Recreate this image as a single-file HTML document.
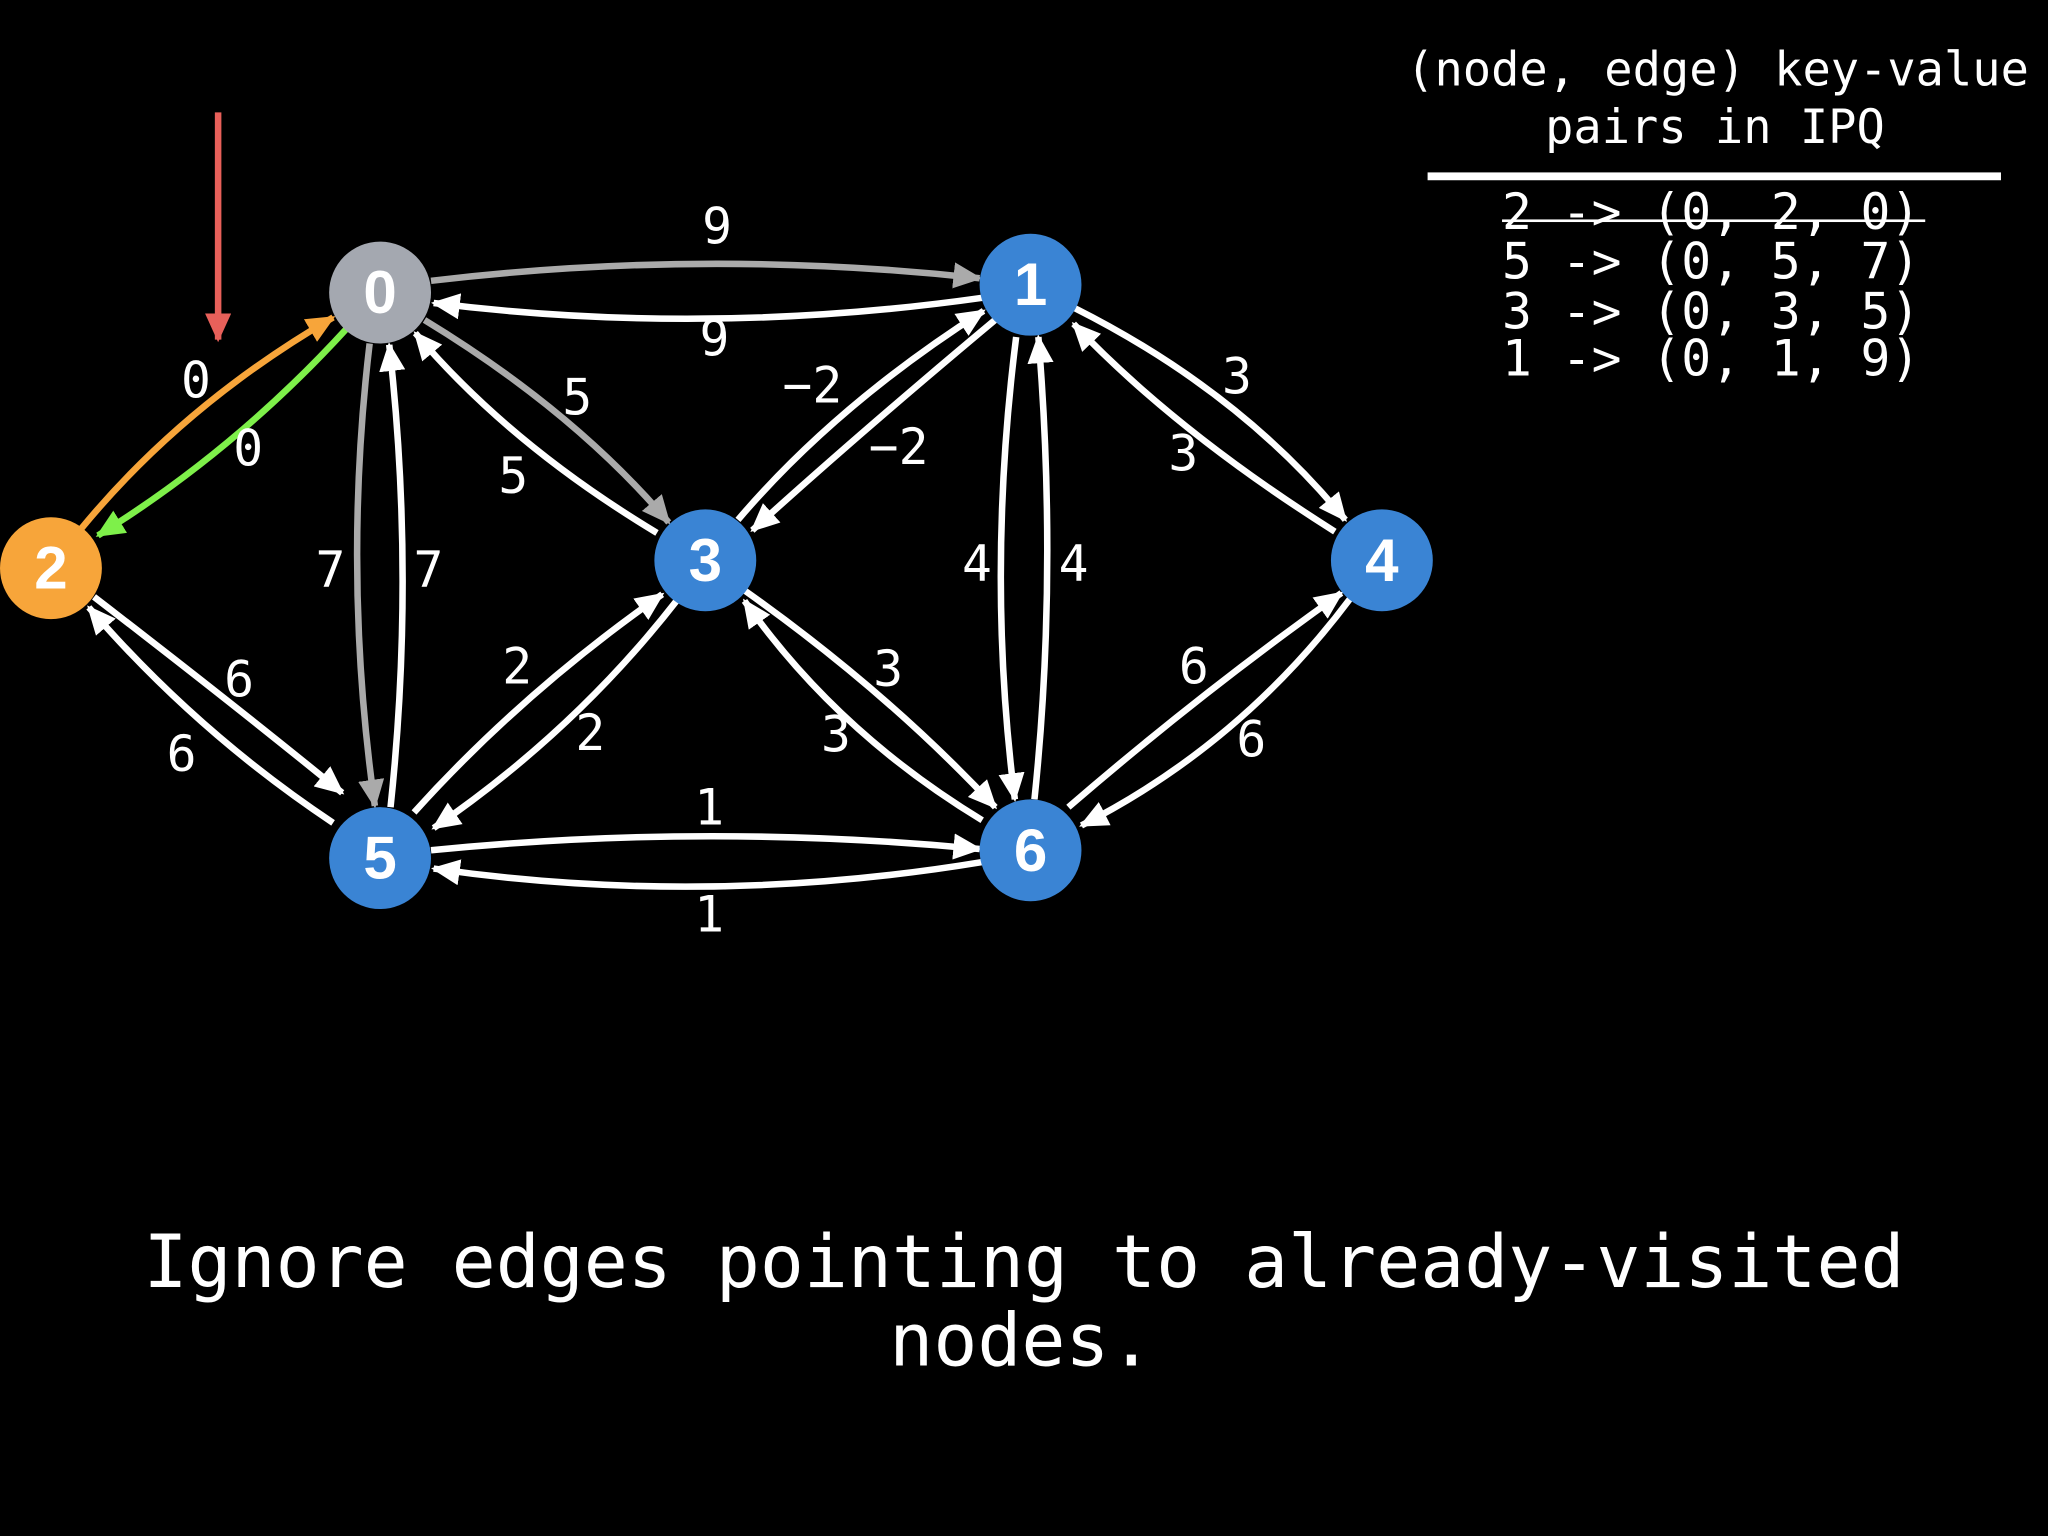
<!DOCTYPE html>
<html><head><meta charset="utf-8"><style>
html,body{margin:0;padding:0;background:#000;}
svg{display:block;}
.l{font-family:"DejaVu Sans Mono","Liberation Mono",monospace;fill:#fff;font-size:38px;text-anchor:middle;dominant-baseline:middle;}
.n{font-family:"Liberation Sans",sans-serif;font-weight:bold;fill:#fff;font-size:46px;text-anchor:middle;dominant-baseline:central;}
path{fill:none;stroke-width:5;}
</style></head><body>
<svg width="2048" height="1536" viewBox="0 0 1568 1176" xmlns="http://www.w3.org/2000/svg">
<defs>
<marker id="w" markerUnits="userSpaceOnUse" markerWidth="24" markerHeight="20" refX="20" refY="10" orient="auto"><path d="M0,0 L22,10 L0,20 Z" style="fill:#fff;stroke:none"/></marker>
<marker id="g" markerUnits="userSpaceOnUse" markerWidth="24" markerHeight="20" refX="20" refY="10" orient="auto"><path d="M0,0 L22,10 L0,20 Z" style="fill:#aaa;stroke:none"/></marker>
<marker id="gr" markerUnits="userSpaceOnUse" markerWidth="24" markerHeight="20" refX="20" refY="10" orient="auto"><path d="M0,0 L22,10 L0,20 Z" style="fill:#7ef04a;stroke:none"/></marker>
<marker id="o" markerUnits="userSpaceOnUse" markerWidth="24" markerHeight="20" refX="20" refY="10" orient="auto"><path d="M0,0 L22,10 L0,20 Z" style="fill:#f7a53a;stroke:none"/></marker>
<marker id="r" markerUnits="userSpaceOnUse" markerWidth="24" markerHeight="20" refX="20" refY="10" orient="auto"><path d="M0,0 L22,10 L0,20 Z" style="fill:#e8605a;stroke:none"/></marker>
</defs>
<rect width="1568" height="1176" fill="#000"/>
<!-- red pointer -->
<path d="M167,86 L167,260" stroke="#e8605a" marker-end="url(#r)"/>
<!-- edges -->
<path d="M330,215 Q540,190 750,213" stroke="#aaa" marker-end="url(#g)"/>
<path d="M752,228 Q540,258 332,232" stroke="#fff" marker-end="url(#w)"/>
<path d="M62,405 Q140,310 255,243" stroke="#f7a53a" marker-end="url(#o)"/>
<path d="M265,252 Q180,345 75,410" stroke="#7ef04a" marker-end="url(#gr)"/>
<path d="M325,245 Q440,315 512,400" stroke="#aaa" marker-end="url(#g)"/>
<path d="M503,408 Q390,340 318,255" stroke="#fff" marker-end="url(#w)"/>
<path d="M283,263 Q262,440 287,617" stroke="#aaa" marker-end="url(#g)"/>
<path d="M299,618 Q318,440 298,264" stroke="#fff" marker-end="url(#w)"/>
<path d="M763,244 Q660,330 576,406" stroke="#fff" marker-end="url(#w)"/>
<path d="M565,398 Q640,310 753,238" stroke="#fff" marker-end="url(#w)"/>
<path d="M823,236 Q950,300 1030,398" stroke="#fff" marker-end="url(#w)"/>
<path d="M1022,407 Q900,330 822,248" stroke="#fff" marker-end="url(#w)"/>
<path d="M778,258 Q755,440 777,612" stroke="#fff" marker-end="url(#w)"/>
<path d="M792,612 Q810,440 795,258" stroke="#fff" marker-end="url(#w)"/>
<path d="M72,457 Q180,540 262,607" stroke="#fff" marker-end="url(#w)"/>
<path d="M255,630 Q150,560 68,465" stroke="#fff" marker-end="url(#w)"/>
<path d="M518,460 Q440,560 332,634" stroke="#fff" marker-end="url(#w)"/>
<path d="M317,622 Q400,530 507,455" stroke="#fff" marker-end="url(#w)"/>
<path d="M570,452 Q680,530 762,618" stroke="#fff" marker-end="url(#w)"/>
<path d="M752,628 Q640,560 570,460" stroke="#fff" marker-end="url(#w)"/>
<path d="M1034,458 Q950,570 828,632" stroke="#fff" marker-end="url(#w)"/>
<path d="M818,618 Q920,530 1027,454" stroke="#fff" marker-end="url(#w)"/>
<path d="M330,651 Q540,630 750,650" stroke="#fff" marker-end="url(#w)"/>
<path d="M752,660 Q540,695 332,665" stroke="#fff" marker-end="url(#w)"/>
<!-- nodes -->
<circle cx="291" cy="224" r="39" fill="#a4a8b0"/>
<circle cx="789" cy="218" r="39" fill="#3a84d4"/>
<circle cx="39" cy="435" r="39" fill="#f7a53a"/>
<circle cx="540" cy="429" r="39" fill="#3a84d4"/>
<circle cx="1058" cy="429" r="39" fill="#3a84d4"/>
<circle cx="291" cy="657" r="39" fill="#3a84d4"/>
<circle cx="789" cy="651" r="39" fill="#3a84d4"/>
<text class="n" x="291" y="224">0</text>
<text class="n" x="789" y="218">1</text>
<text class="n" x="39" y="435">2</text>
<text class="n" x="540" y="429">3</text>
<text class="n" x="1058" y="429">4</text>
<text class="n" x="291" y="657">5</text>
<text class="n" x="789" y="651">6</text>
<!-- edge labels -->
<text class="l" x="549" y="176">9</text>
<text class="l" x="547" y="262">9</text>
<text class="l" x="150" y="294">0</text>
<text class="l" x="190" y="346">0</text>
<text class="l" x="442" y="307">5</text>
<text class="l" x="393" y="367">5</text>
<text class="l" x="253" y="439">7</text>
<text class="l" x="328" y="439">7</text>
<text class="l" x="622" y="298">−2</text>
<text class="l" x="688" y="345">−2</text>
<text class="l" x="947" y="291">3</text>
<text class="l" x="906" y="350">3</text>
<text class="l" x="748" y="434">4</text>
<text class="l" x="822" y="434">4</text>
<text class="l" x="183" y="523">6</text>
<text class="l" x="139" y="580">6</text>
<text class="l" x="396" y="513">2</text>
<text class="l" x="452" y="564">2</text>
<text class="l" x="680" y="515">3</text>
<text class="l" x="640" y="565">3</text>
<text class="l" x="914" y="513">6</text>
<text class="l" x="958" y="569">6</text>
<text class="l" x="543" y="621">1</text>
<text class="l" x="543" y="703">1</text>
<!-- IPQ panel -->
<text class="l" x="1315" y="56" style="font-size:36px">(node, edge) key-value</text>
<text class="l" x="1313" y="100" style="font-size:36px">pairs in IPQ</text>
<rect x="1093" y="132" width="439" height="6" fill="#fff"/>
<g style="text-anchor:start">
<text class="l" x="1150" y="165" style="text-anchor:start">2 -&gt; (0, 2, 0)</text>
<text class="l" x="1150" y="203" style="text-anchor:start">5 -&gt; (0, 5, 7)</text>
<text class="l" x="1150" y="241" style="text-anchor:start">3 -&gt; (0, 3, 5)</text>
<text class="l" x="1150" y="277" style="text-anchor:start">1 -&gt; (0, 1, 9)</text>
</g>
<rect x="1150" y="168" width="324" height="2" fill="#fff"/>
<!-- caption -->
<text class="l" x="784" y="970" style="font-size:56px">Ignore edges pointing to already-visited</text>
<text class="l" x="782" y="1030" style="font-size:56px">nodes.</text>
</svg>
</body></html>
